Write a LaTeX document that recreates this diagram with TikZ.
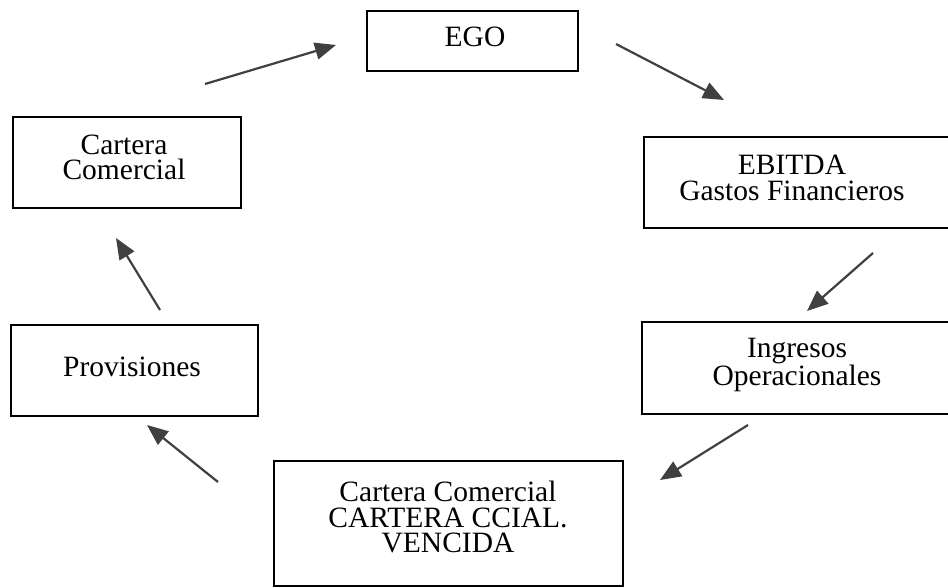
\documentclass[tikz,border=0pt]{standalone}
\usepackage{fontspec}
\setmainfont{Liberation Serif}
\usetikzlibrary{arrows.meta}
\begin{document}
\begin{tikzpicture}[x=1pt,y=-1pt,
  box/.style={draw=black, line width=1.6pt, rectangle, inner sep=0pt},
  lbl/.style={font=\fontsize{29.5}{25.5}\selectfont, align=center, inner sep=0pt},
  flow/.style={draw=black!75, line width=2.2pt, -{Triangle[length=21pt,width=17pt]}}]
\useasboundingbox (0,0) rectangle (948,587);
\fill[white] (0,0) rectangle (948,587);
\begin{scope}
\clip (0,0) rectangle (948,587);
% boxes
\node[box, minimum width=211pt, minimum height=60pt]  (ego)  at (472.5,41)   {};
\node[box, minimum width=308pt, minimum height=91pt]  (ebit) at (798,182.5)  {};
\node[box, minimum width=310pt, minimum height=92pt]  (ingr) at (797,368)    {};
\node[box, minimum width=349pt, minimum height=125pt] (venc) at (448.5,523.5){};
\node[box, minimum width=247pt, minimum height=91pt]  (prov) at (134.5,370.5){};
\node[box, minimum width=228pt, minimum height=91pt]  (cart) at (127,162.5)  {};
% labels
\node[lbl] (egoT)  at (475,37)   {EGO};
\node[lbl] (ebitT) at (792,178)  {EBITDA\\Gastos Financieros};
\node[lbl] (ingrT) at (797,365)  {Ingresos\\Operacionales};
\node[lbl] (vencT) at (448,517)  {Cartera Comercial\\CARTERA CCIAL.\\VENCIDA};
\node[lbl] (provT) at (132,367)  {Provisiones};
\node[lbl] (cartT) at (124,157.5){Cartera\\Comercial};
% arrow end points
\coordinate (a1s) at (205,84);  \coordinate (a1e) at (336,45);
\coordinate (a2s) at (616,44);  \coordinate (a2e) at (724,100);
\coordinate (a3s) at (873,253); \coordinate (a3e) at (807,311);
\coordinate (a4s) at (748,425); \coordinate (a4e) at (660,480);
\coordinate (a5s) at (218,482); \coordinate (a5e) at (147,425);
\coordinate (a6s) at (160,310); \coordinate (a6e) at (116,238);
\draw[flow] (a1s) -- (a1e);
\draw[flow] (a2s) -- (a2e);
\draw[flow] (a3s) -- (a3e);
\draw[flow] (a4s) -- (a4e);
\draw[flow] (a5s) -- (a5e);
\draw[flow] (a6s) -- (a6e);
\end{scope}
\end{tikzpicture}
\end{document}
